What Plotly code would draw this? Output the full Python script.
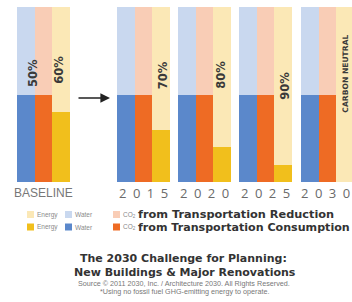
import plotly.graph_objects as go

# ---- data ----
groups = ["BASELINE", "2015", "2020", "2025", "2030"]
water_consumption = [50, 50, 50, 50, 50]
co2_consumption = [50, 50, 50, 50, 50]
energy_consumption = [40, 30, 20, 10, 0]
total = 100
pct_labels = ["60%", "70%", "80%", "90%", "CARBON NEUTRAL"]
baseline_extra_label = "50%"

# ---- layout constants ----
W, H = 352, 302
PX = 61.0                      # pixels per group unit
group_pos = [0, 1.64, 2.64, 3.64, 4.655]
bw = 17.67 / PX
x0 = -43.5 / PX
x1 = x0 + W / PX

def py(p):
    return 1 - p / H

def pxp(p):
    return p / W

light = {"water": "#c9d8ef", "co2": "#f9cdb6", "energy": "#fbe8b6"}
dark = {"water": "#5b88cb", "co2": "#ee6b24", "energy": "#f1bf1c"}

fig = go.Figure()
series = [("water", water_consumption, -1.5), ("co2", co2_consumption, -0.5), ("energy", energy_consumption, 0.5)]
for key, cons, off in series:
    fig.add_trace(go.Bar(x=group_pos, y=cons, base=0, width=bw, offset=off * bw,
                         marker=dict(color=dark[key], line=dict(width=0)), showlegend=False,
                         hoverinfo="skip"))
    fig.add_trace(go.Bar(x=group_pos, y=[total - c for c in cons], base=cons, width=bw, offset=off * bw,
                         marker=dict(color=light[key], line=dict(width=0)), showlegend=False,
                         hoverinfo="skip"))

ann = []
# category labels
label_shift = [0, 0, 0, 0, -0.03]
for i, g in enumerate(groups):
    if g == "BASELINE":
        ann.append(dict(x=group_pos[i], y=py(193), xref="x", yref="paper", text=g, showarrow=False,
                        font=dict(family="Liberation Sans Narrow, Liberation Sans", size=12, color="#777777"),
                        xanchor="center", yanchor="middle"))
    else:
        ann.append(dict(x=group_pos[i] + label_shift[i], y=py(193), xref="x", yref="paper",
                        text="\u2002".join(g), showarrow=False,
                        font=dict(family="Open Sans", size=13, color="#6a6a6a"),
                        xanchor="center", yanchor="middle"))

# rotated percentage labels
lab_off = [0.25, 0.32, 0.28, 0.32, 0.29]
lab_y = [64, 61, 61, 55, 62]
for i, t in enumerate(pct_labels):
    small = len(t) > 4
    ann.append(dict(x=group_pos[i] + lab_off[i], y=lab_y[i], xref="x", yref="y", text="<b>%s</b>" % t,
                    textangle=-90, showarrow=False,
                    font=dict(family="DejaVu Sans", size=7.6 if small else 11.5, color="#3a3a3a"),
                    xanchor="center", yanchor="middle"))
ann.append(dict(x=group_pos[0] - 0.18, y=62, xref="x", yref="y", text="<b>%s</b>" % baseline_extra_label,
                textangle=-90, showarrow=False,
                font=dict(family="DejaVu Sans", size=11.5, color="#3a3a3a"),
                xanchor="center", yanchor="middle"))

# arrow from baseline to 2015
ann.append(dict(x=(110 - 43.5) / PX, y=48, ax=(77 - 43.5) / PX, ay=48, xref="x", yref="y", axref="x", ayref="y",
                text="", showarrow=True, arrowhead=2, arrowsize=1.2, arrowwidth=1.6, arrowcolor="#222222"))

# legend (drawn)
shapes = []
rows = [("light", 214.5, "from Transportation Reduction", 11.3),
        ("dark", 227, "from Transportation Consumption", 11.1)]
items = [("energy", 27, "Energy"), ("water", 65, "Water"), ("co2", 113, "CO<sub>2</sub>")]
for kind, yc, txt, fs in rows:
    cmap = light if kind == "light" else dark
    for key, xl, lbl in items:
        shapes.append(dict(type="rect", xref="paper", yref="paper", x0=pxp(xl), x1=pxp(xl + 7),
                           y0=py(yc + 3.5), y1=py(yc - 3.5), fillcolor=cmap[key], line=dict(width=0)))
        ann.append(dict(x=pxp(xl + 8), y=py(yc), xref="paper", yref="paper", text=lbl, showarrow=False,
                        font=dict(family="Liberation Sans", size=6.5, color="#8a8a8a"),
                        xanchor="left", yanchor="middle"))
    ann.append(dict(x=pxp(136), y=py(yc), xref="paper", yref="paper", text="<b>%s</b>" % txt, showarrow=False,
                    font=dict(family="DejaVu Sans", size=fs, color="#333333"),
                    xanchor="left", yanchor="middle"))

# title block
ann.append(dict(x=pxp(183), y=py(258), xref="paper", yref="paper", text="<b>The 2030 Challenge for Planning:</b>",
                showarrow=False, font=dict(family="DejaVu Sans", size=11, color="#333333"),
                xanchor="center", yanchor="middle"))
ann.append(dict(x=pxp(185), y=py(272), xref="paper", yref="paper", text="<b>New Buildings &amp; Major Renovations</b>",
                showarrow=False, font=dict(family="DejaVu Sans", size=11, color="#333333"),
                xanchor="center", yanchor="middle"))
ann.append(dict(x=pxp(184), y=py(283.5), xref="paper", yref="paper",
                text="Source © 2011 2030, Inc. / Architecture 2030. All Rights Reserved.",
                showarrow=False, font=dict(family="Liberation Sans", size=7.2, color="#777777"),
                xanchor="center", yanchor="middle"))
ann.append(dict(x=pxp(184), y=py(291), xref="paper", yref="paper",
                text="*Using no fossil fuel GHG-emitting energy to operate.",
                showarrow=False, font=dict(family="Liberation Sans", size=7.2, color="#777777"),
                xanchor="center", yanchor="middle"))

fig.update_layout(
    width=W, height=H, margin=dict(l=0, r=0, t=0, b=0),
    paper_bgcolor="white", plot_bgcolor="white",
    barmode="overlay", bargap=0,
    xaxis=dict(range=[x0, x1], visible=False, fixedrange=True),
    yaxis=dict(range=[0, total], domain=[py(182), py(7)], visible=False, fixedrange=True),
    annotations=ann, shapes=shapes,
)
fig.write_html("out.html", config={"displayModeBar": False},
               post_script="document.body.style.margin='0';")
